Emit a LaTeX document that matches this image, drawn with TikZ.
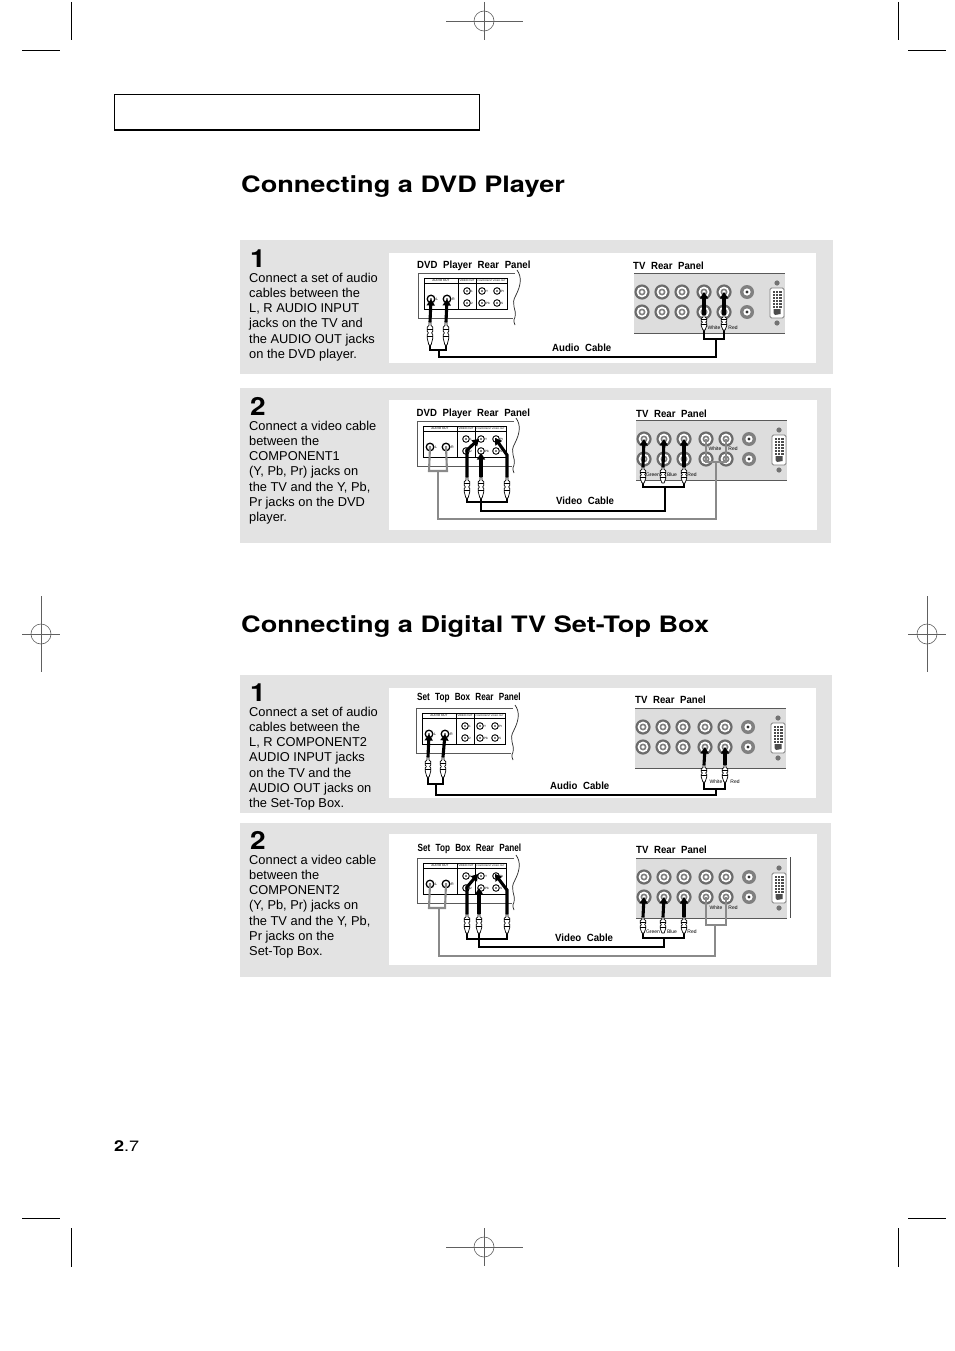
\documentclass[tikz,border=0pt]{standalone}
\usepackage{fontspec}
\setmainfont{Liberation Sans}
\newfontfamily\widefam[FakeStretch=1.2]{TeX Gyre Heros}
\newfontfamily\numfam[FakeStretch=1.12]{TeX Gyre Heros}
\newfontfamily\narrowbold[FakeStretch=0.925]{Liberation Sans Bold}
\newfontfamily\narrowerbold[FakeStretch=0.785]{Liberation Sans Bold}
\usetikzlibrary{arrows.meta}
\definecolor{panelgray}{HTML}{E3E3E3}
\definecolor{tvgray}{HTML}{DDDDDD}
\definecolor{cablegray}{HTML}{8A8A8A}
\tikzset{
  x=1pt,y=-1pt,
  cropline/.style={line width=0.7pt,black},
  regline/.style={line width=0.6pt,gray!75!black},
  titletext/.style={anchor=base west,inner sep=0pt,font=\widefam\bfseries\fontsize{22.6}{26}\selectfont},
  stepnum/.style={anchor=base west,inner sep=0pt,font=\numfam\bfseries\fontsize{25}{28}\selectfont},
  bodytext/.style={anchor=north west,inner sep=0pt,align=left,font=\fontsize{12.85}{15.15}\selectfont},
  captext/.style={anchor=base west,inner sep=0pt,font=\narrowbold\fontsize{10.4}{12}\selectfont},
  setcaptext/.style={anchor=base west,inner sep=0pt,font=\narrowerbold\fontsize{10.4}{12}\selectfont},
  tinytext/.style={inner sep=0pt,font=\fontsize{5}{6}\selectfont},
  microtext/.style={inner sep=0pt,font=\fontsize{3.1}{4}\selectfont},
  blackmain/.style={line width=2.9pt,black,line join=miter},
  blackbus/.style={line width=2pt,black,line join=miter},
  graymain/.style={line width=2.1pt,cablegray,line join=miter},
  graythin/.style={line width=1.5pt,cablegray,line join=miter},
  pusharrow/.style={line width=3.1pt,black,-{Triangle[width=8pt,length=6.5pt]}},
}
\newcommand{\regmark}[3]{% name x y
  \coordinate (#1) at (#2,#3);
  \draw[regline] (#1) circle[radius=10];
}
\newcommand{\tvpanel}[3]{% name x y
  \begin{scope}[shift={(#2,#3)}]
    \fill[tvgray] (0,0) rectangle (151,60);
    \draw[line width=0.9pt,black!65] (0,0) -- (151,0) (0,60) -- (151,60);
    \foreach \xx/\cc in {8/a,28/b,48/c,70/d,90/e}{
      \foreach \yy/\rr in {19/u,39/l}{
        \coordinate (#1-\cc\rr) at (\xx,\yy);
        \fill[black!58] (\xx,\yy) circle[radius=7.6];
        \fill[white] (\xx,\yy) circle[radius=5.4];
        \fill[black!50] (\xx,\yy) circle[radius=3.5];
        \fill[white] (\xx,\yy) circle[radius=1.9];
      }
    }
    \foreach \yy in {19,39}{
      \fill[black!50] (113,\yy) circle[radius=7];
      \fill[white] (113,\yy) circle[radius=3.6];
      \fill[black!80] (113,\yy) circle[radius=1.6];
    }
    \fill[black!55] (143,10) circle[radius=2.6];
    \fill[black!55] (143,50) circle[radius=2.6];
    \draw[black!50,fill=white,line width=0.9pt,rounded corners=1.5pt] (136,15) rectangle (150,45);
    \foreach \yy in {18,21,24,27,30,33}{
      \fill[black!70] (138.5,\yy) rectangle (147.5,\yy+2);
    }
    \draw[white,line width=0.5pt] (141.5,17) -- (141.5,35) (144.5,17) -- (144.5,35);
    \fill[black!70] (139.5,36) -- (146.5,36) -- (146.5,41) -- (141,42) -- (139.5,40) -- cycle;
  \end{scope}
}
\newcommand{\rearpanel}[3]{% name x y
  \begin{scope}[shift={(#2,#3)}]
    \draw[line width=0.7pt,black!65] (97,0) -- (0,0) -- (0,45) -- (95,45);
    \draw[line width=0.7pt,black!85] (99,-3) .. controls (104,4) and (103,12) .. (98,22)
      .. controls (92,32) and (99,36) .. (97,44) .. controls (95,48) and (96,50) .. (97,52);
    \draw[line width=0.9pt,black] (6,5) rectangle (89,36);
    \draw[line width=0.8pt,black] (40,5) -- (40,36) (58,5) -- (58,36);
    \draw[line width=0.6pt,black] (6,10) -- (89,10);
    \node[microtext] (#1-h1) at (23,7.6) {AUDIO OUT};
    \node[microtext] (#1-h2) at (49,7.6) {\fontsize{2.7}{3}\selectfont VIDEO OUT};
    \node[microtext] (#1-h3) at (73.5,7.6) {\fontsize{2.3}{3}\selectfont COMPONENT VIDEO OUT};
    \foreach \xx/\nn/\ll in {13/L/L,29/R/R}{
      \coordinate (#1-\nn) at (\xx,26);
      \draw[black,line width=1.3pt,fill=white] (\xx,26) circle[radius=3.8];
      \fill[black] (\xx,26) circle[radius=0.9];
      \node[microtext,anchor=west] (#1-lab\nn) at (\xx+4.8,26) {\fontsize{3.6}{4}\selectfont\ll};
    }
    \foreach \xx/\yy/\nn/\ll in {49/18/Va/1,49/30/Vb/2,64/18/Y/Y,79/18/Pr/Pr,64/30/Pb/Pb,79/30/S/S}{
      \coordinate (#1-\nn) at (\xx,\yy);
      \draw[black,line width=0.9pt,fill=white] (\xx,\yy) circle[radius=3.3];
      \fill[black] (\xx,\yy) circle[radius=0.8];
      \node[microtext,anchor=west] (#1-lab\nn) at (\xx+3.9,\yy+0.5) {\ll};
    }
  \end{scope}
}
\newcommand{\plug}[4]{% name x ytop ybot
  \coordinate (#1-t) at (#2,#3);
  \coordinate (#1-b) at (#2,#4);
  \begin{scope}[shift={(#2,#3)},yscale={(#4-#3)/20}]
    \draw[line width=0.7pt,black,fill=white,line join=round]
      (-1,0) -- (-1,3) -- (-2.8,4.5) -- (-2.8,8) -- (-1.6,9.5) -- (-2.8,11) -- (-2.8,14) -- (-1.1,20)
      -- (1.1,20) -- (2.8,14) -- (2.8,11) -- (1.6,9.5) -- (2.8,8) -- (2.8,4.5) -- (1,3) -- (1,0) -- cycle;
    \draw[line width=0.5pt,black] (-2.8,6) -- (2.8,6) (-2.8,12.5) -- (2.8,12.5);
  \end{scope}
}
\begin{document}
\begin{tikzpicture}
\useasboundingbox (0,0) rectangle (954,1351);
\fill[white] (0,0) rectangle (954,1351);
% crop marks
\coordinate (c1a) at (71,2); \coordinate (c1b) at (71,40);
\coordinate (c2a) at (22,50); \coordinate (c2b) at (60,50);
\coordinate (c3a) at (898,2); \coordinate (c3b) at (898,40);
\coordinate (c4a) at (908,50); \coordinate (c4b) at (946,50);
\coordinate (c5a) at (22,1218); \coordinate (c5b) at (60,1218);
\coordinate (c6a) at (71,1228); \coordinate (c6b) at (71,1267);
\coordinate (c7a) at (908,1218); \coordinate (c7b) at (946,1218);
\coordinate (c8a) at (898,1228); \coordinate (c8b) at (898,1267);
\foreach \k in {1,...,8}{\draw[cropline] (c\k a) -- (c\k b);}
\regmark{r1}{484}{21}
\draw[regline] (446,21) -- (523,21) (484,2) -- (484,40);
\regmark{r2}{41}{634}
\draw[regline] (22,634) -- (60,634) (41,596) -- (41,672);
\regmark{r3}{927}{634}
\draw[regline] (908,634) -- (946,634) (927,596) -- (927,672);
\regmark{r4}{484}{1247}
\draw[regline] (446,1247) -- (523,1247) (484,1228) -- (484,1266);
% header box
\draw[line width=1.9pt,black] (114.5,94.5) rectangle (479.5,130);
% titles
\node[titletext] (t1) at (241,193) {Connecting a DVD Player};
\node[titletext] (t2) at (241,632) {Connecting a Digital TV Set-Top Box};
% gray panels
\fill[panelgray] (240,240) rectangle (833,374);
\fill[white] (389,253) rectangle (816,363);
\fill[panelgray] (240,388) rectangle (831,543);
\fill[white] (389,400) rectangle (817,530);
\fill[panelgray] (240,675) rectangle (832,813);
\fill[white] (389,688) rectangle (816,798);
\fill[panelgray] (240,823) rectangle (831,977);
\fill[white] (389,834) rectangle (817,965);
% step texts
\node[stepnum] (n1) at (250,267) {1};
\node[bodytext] (b1) at (249,273) {Connect a set of audio\\cables between the\\L, R AUDIO INPUT\\jacks on the TV and\\the AUDIO OUT jacks\\on the DVD player.};
\node[stepnum] (n2) at (250,415) {2};
\node[bodytext] (b2) at (249,421) {Connect a video cable\\between the\\COMPONENT1\\(Y, Pb, Pr) jacks on\\the TV and the Y, Pb,\\Pr jacks on the DVD\\player.};
\node[stepnum] (n3) at (250,701) {1};
\node[bodytext] (b3) at (249,707) {Connect a set of audio\\cables between the\\L, R COMPONENT2\\AUDIO INPUT jacks\\on the TV and the\\AUDIO OUT jacks on\\the Set-Top Box.};
\node[stepnum] (n4) at (250,849) {2};
\node[bodytext] (b4) at (249,855) {Connect a video cable\\between the\\COMPONENT2\\(Y, Pb, Pr) jacks on\\the TV and the Y, Pb,\\Pr jacks on the\\Set-Top Box.};
% page number
\node[anchor=base west,inner sep=0pt,font=\fontsize{15}{18}\selectfont] (pg) at (114,1151) {\widefam{\bfseries 2}.7};

% ===== diagram 1 =====
\node[captext] (d1a) at (417,268) {DVD\hspace{3pt} Player\hspace{3pt} Rear\hspace{3pt} Panel};
\node[captext] (d1b) at (633,269.5) {TV\hspace{3pt} Rear\hspace{3pt} Panel};
\node[captext] (d1c) at (552,351) {Audio\hspace{3pt} Cable};
\rearpanel{A}{418}{273}
\tvpanel{B}{634}{273}
\node[tinytext] (w1) at (714,327.5) {White};
\node[tinytext] (r1l) at (733,327.5) {Red};
\coordinate (A1) at (439,350); \coordinate (A2) at (439,357);
\coordinate (A3) at (716,357); \coordinate (A4) at (716,339);
\coordinate (A5) at (430,350); \coordinate (A6) at (446,350);
\coordinate (A7) at (704,339); \coordinate (A8) at (724,339);
\draw[blackmain] (A1) -- (A2) -- (A3) -- (A4);
\draw[blackbus] (430,344) -- (A5) -- (A6) -- (446,344);
\draw[blackbus] (704,329) -- (A7) -- (A8) -- (724,329);
\plug{pa}{430}{322}{345}\plug{pb}{446}{322}{345}
\plug{pc}{704}{315}{330}\plug{pd}{724}{315}{330}
\draw[pusharrow] (pa-t) -- (A-L);
\draw[pusharrow] (pb-t) -- (A-R);
\draw[pusharrow] (pc-t) -- (B-du);
\draw[pusharrow] (pd-t) -- (B-eu);

% ===== diagram 2 =====
\node[captext] (d2a) at (416.5,416) {DVD\hspace{3pt} Player\hspace{3pt} Rear\hspace{3pt} Panel};
\node[captext] (d2b) at (636,417) {TV\hspace{3pt} Rear\hspace{3pt} Panel};
\node[captext] (d2c) at (556,504) {Video\hspace{3pt} Cable};
\rearpanel{C}{417}{421}
\tvpanel{D}{636}{420}
\node[tinytext] (w2) at (715,449) {White};
\node[tinytext] (r2l) at (733,449) {Red};
\node[tinytext] (g2) at (653,475) {Green};
\node[tinytext] (b2l) at (672,475) {Blue};
\node[tinytext] (r2m) at (692,475) {Red};
\coordinate (C1) at (429,471); \coordinate (C2) at (447,471);
\coordinate (C3) at (438,471); \coordinate (C4) at (438,519);
\coordinate (C5) at (716,519); \coordinate (C6) at (716,462);
\coordinate (C7) at (706,462); \coordinate (C8) at (726,462);
\draw[graymain] (C-L) -- (C1) -- (C2) -- (C-R);
\draw[graymain] (C3) -- (C4) -- (C5) -- (C6);
\draw[graythin] (D-du) -- (C7) -- (C8) -- (D-eu);
\coordinate (C9) at (467,502); \coordinate (C10) at (507,502);
\coordinate (C11) at (481,511); \coordinate (C12) at (665,511);
\coordinate (C13) at (665,487); \coordinate (C14) at (643,487); \coordinate (C15) at (684,487);
\draw[blackbus] (467,497) -- (C9) -- (C10) -- (507,497);
\draw[blackmain] (481,497) -- (C11) -- (C12) -- (C13);
\draw[blackbus] (643,482) -- (C14) -- (C15) -- (684,482);
\plug{pe}{467}{477}{498}\plug{pf}{481}{477}{498}\plug{pg}{507}{477}{498}
\plug{ph}{643}{467}{483}\plug{pi}{663}{467}{483}\plug{pj}{684}{467}{483}
\coordinate (C16) at (467,450); \coordinate (C17) at (507,455);
\draw[pusharrow] (pe-t) -- (C16) -- (479,439);
\draw[pusharrow] (pf-t) -- (481,453);
\draw[pusharrow] (pg-t) -- (C17) -- (495,438);
\draw[pusharrow] (ph-t) -- (D-au);
\draw[pusharrow] (pi-t) -- (D-bu);
\draw[pusharrow] (pj-t) -- (D-cu);

% ===== diagram 3 =====
\node[setcaptext] (d3a) at (417,700.5) {Set\hspace{3pt} Top\hspace{3pt} Box\hspace{3pt} Rear\hspace{3pt} Panel};
\node[captext] (d3b) at (635,703.5) {TV\hspace{3pt} Rear\hspace{3pt} Panel};
\node[captext] (d3c) at (550,789.5) {Audio\hspace{3pt} Cable};
\rearpanel{E}{416}{708}
\tvpanel{F}{635}{708}
\node[tinytext] (w3) at (716,782) {White};
\node[tinytext] (r3l) at (735,782) {Red};
\coordinate (E1) at (436,784); \coordinate (E2) at (436,795);
\coordinate (E3) at (716,795); \coordinate (E4) at (716,789);
\coordinate (E5) at (428,784); \coordinate (E6) at (443,784);
\coordinate (E7) at (704,789); \coordinate (E8) at (725,789);
\draw[blackmain] (E1) -- (E2) -- (E3) -- (E4);
\draw[blackbus] (428,776) -- (E5) -- (E6) -- (443,776);
\draw[blackbus] (704,781) -- (E7) -- (E8) -- (725,781);
\plug{pk}{428}{757}{777}\plug{pl}{443}{757}{777}
\plug{pm}{704}{765}{782}\plug{pn}{725}{765}{782}
\draw[pusharrow] (pk-t) -- (E-L);
\draw[pusharrow] (pl-t) -- (E-R);
\draw[pusharrow] (pm-t) -- (F-dl);
\draw[pusharrow] (pn-t) -- (F-el);

% ===== diagram 4 =====
\node[setcaptext] (d4a) at (417.5,851) {Set\hspace{3pt} Top\hspace{3pt} Box\hspace{3pt} Rear\hspace{3pt} Panel};
\node[captext] (d4b) at (636,853.5) {TV\hspace{3pt} Rear\hspace{3pt} Panel};
\node[captext] (d4c) at (555,941.5) {Video\hspace{3pt} Cable};
\rearpanel{G}{417}{858}
\tvpanel{H}{636}{858}
\coordinate (H0a) at (790,857); \coordinate (H0b) at (790,918);
\draw[line width=0.9pt,black!70] (H0a) -- (H0b);
\node[tinytext] (w4) at (716,908) {White};
\node[tinytext] (r4l) at (733,908) {Red};
\node[tinytext] (g4) at (653,932) {Green};
\node[tinytext] (b4l) at (672,932) {Blue};
\node[tinytext] (r4m) at (692,932) {Red};
\coordinate (G1) at (429,908); \coordinate (G2) at (445,908);
\coordinate (G3) at (439,908); \coordinate (G4) at (439,956);
\coordinate (G5) at (715,956); \coordinate (G6) at (715,925);
\coordinate (G7) at (706,925); \coordinate (G8) at (726,925);
\draw[graymain] (G-L) -- (G1) -- (G2) -- (G-R);
\draw[graymain] (G3) -- (G4) -- (G5) -- (G6);
\draw[graymain] (H-dl) -- (G7) -- (G8) -- (H-el);
\coordinate (G9) at (467,939); \coordinate (G10) at (507,939);
\coordinate (G11) at (479,947); \coordinate (G12) at (664,947);
\coordinate (G13) at (664,938); \coordinate (G14) at (643,938); \coordinate (G15) at (684,938);
\draw[blackbus] (467,932) -- (G9) -- (G10) -- (507,932);
\draw[blackmain] (479,932) -- (G11) -- (G12) -- (G13);
\draw[blackbus] (643,932) -- (G14) -- (G15) -- (684,932);
\plug{po}{467}{914}{933}\plug{pp}{479}{914}{933}\plug{pq}{507}{914}{933}
\plug{pr}{643}{917}{933}\plug{ps}{663}{917}{933}\plug{pt}{684}{917}{933}
\coordinate (G16) at (467,887); \coordinate (G17) at (507,890);
\draw[pusharrow] (po-t) -- (G16) -- (478,874);
\draw[pusharrow] (pp-t) -- (479,888);
\draw[pusharrow] (pq-t) -- (G17) -- (495,874);
\draw[pusharrow] (pr-t) -- (H-al);
\draw[pusharrow] (ps-t) -- (H-bl);
\draw[pusharrow] (pt-t) -- (H-cl);
\end{tikzpicture}
\end{document}
